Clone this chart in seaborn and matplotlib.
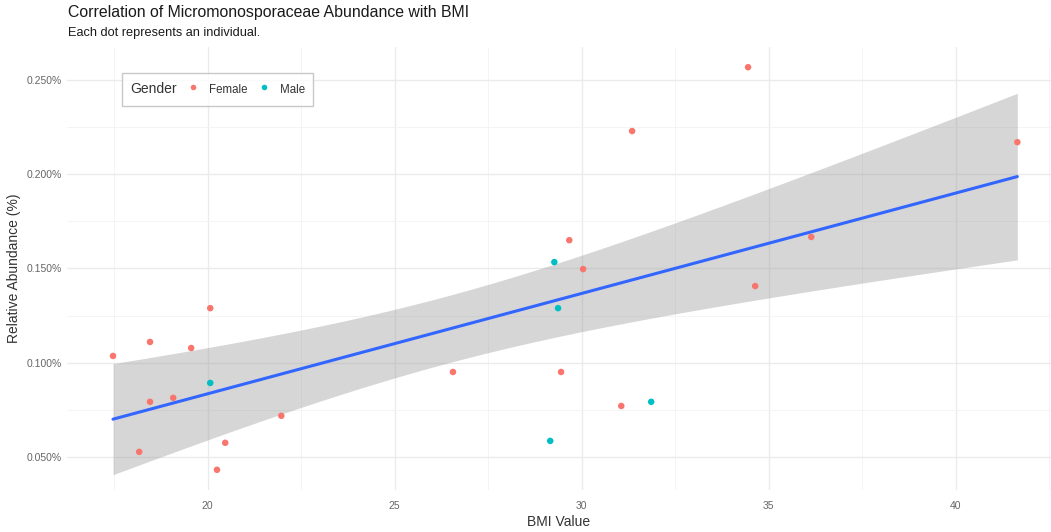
import numpy as np
import pandas as pd
import seaborn as sns
import matplotlib.pyplot as plt
from matplotlib.lines import Line2D
from matplotlib.ticker import MultipleLocator, FuncFormatter

# BMI values and relative abundance (%)
bmi_female = [17.47, 18.46, 18.46, 18.17, 19.08, 19.56, 20.07, 20.47, 20.25, 21.97,
              26.56, 29.67, 30.04, 29.45, 31.06, 31.35, 34.45, 34.64, 36.14, 41.65]
abund_female = [0.1037, 0.1111, 0.0794, 0.0529, 0.0815, 0.1079, 0.1290, 0.0577, 0.0434, 0.0720,
                0.0952, 0.1650, 0.1497, 0.0952, 0.0772, 0.2228, 0.2566, 0.1407, 0.1667, 0.2169]
bmi_male = [20.07, 29.27, 29.37, 29.16, 31.86]
abund_male = [0.0894, 0.1534, 0.1290, 0.0587, 0.0794]
genders = ['Female', 'Male']
palette = {'Female': '#F8766D', 'Male': '#00BFC4'}

df = pd.DataFrame({
    'BMI': bmi_female + bmi_male,
    'Abundance': abund_female + abund_male,
    'Gender': ['Female'] * len(bmi_female) + ['Male'] * len(bmi_male),
})

sns.set_style('whitegrid')
plt.rcParams['font.family'] = ['Liberation Sans', 'DejaVu Sans']

fig, ax = plt.subplots(figsize=(10.51, 5.32), dpi=100)
fig.subplots_adjust(left=67/1051, right=1.0, top=1-47/532, bottom=1-490/532)

# 95% confidence band of the linear fit (t-based, like geom_smooth)
x = df['BMI'].to_numpy()
y = df['Abundance'].to_numpy()
n = len(x)
slope, intercept = np.polyfit(x, y, 1)
resid = y - (slope * x + intercept)
s = np.sqrt(np.sum(resid ** 2) / (n - 2))
grid = np.linspace(x.min(), x.max(), 80)
se = s * np.sqrt(1 / n + (grid - x.mean()) ** 2 / np.sum((x - x.mean()) ** 2))
t975 = 2.069  # t quantile, df = 23
fit = slope * grid + intercept
ax.fill_between(grid, fit - t975 * se, fit + t975 * se, color='#999999', alpha=0.4,
                linewidth=0, zorder=1)

# Regression line
sns.regplot(data=df, x='BMI', y='Abundance', scatter=False, ci=None,
            color='#3366FF', line_kws={'linewidth': 2.2, 'zorder': 2}, ax=ax)

sns.scatterplot(data=df, x='BMI', y='Abundance', hue='Gender', hue_order=genders,
                palette=palette, s=22, edgecolor='none', ax=ax, zorder=3)

# Axes, ticks and grid
ax.xaxis.set_major_locator(MultipleLocator(5))
ax.xaxis.set_minor_locator(MultipleLocator(2.5))
ax.yaxis.set_major_locator(MultipleLocator(0.05))
ax.yaxis.set_minor_locator(MultipleLocator(0.025))
ax.yaxis.set_major_formatter(FuncFormatter(lambda v, p: f'{v:.3f}%'))
ax.grid(which='major', color='#EBEBEB', linewidth=1.0)
ax.grid(which='minor', color='#F3F3F3', linewidth=0.6)
ax.set_axisbelow(True)
for sp in ax.spines.values():
    sp.set_visible(False)
ax.tick_params(axis='both', which='both', length=0, labelsize=7.5, labelcolor='#666666')
ax.tick_params(axis='x', pad=8)
ax.tick_params(axis='y', pad=4)

ax.set_xlabel('BMI Value', fontsize=10, color='#333333', labelpad=3)
ax.set_ylabel('Relative Abundance (%)', fontsize=10, color='#333333', labelpad=4)

# Title and subtitle
fig.text(68/1051, 1-13/532, 'Correlation of Micromonosporaceae Abundance with BMI',
         fontsize=11.4, ha='left', va='center', color='#1A1A1A')
fig.text(68/1051, 1-33/532, 'Each dot represents an individual.',
         fontsize=9.2, ha='left', va='center', color='#1A1A1A')

# Horizontal legend with the title on the left
ax.get_legend().remove()
handles = [Line2D([], [], linestyle='none')]
labels = ['Gender']
for g in genders:
    handles.append(Line2D([], [], marker='o', linestyle='none', markersize=4,
                          markerfacecolor=palette[g], markeredgecolor='none'))
    labels.append(g)
leg = ax.legend(handles, labels, ncol=3, loc='upper left', bbox_to_anchor=(0.0561, 0.941),
                borderaxespad=0, frameon=True, fancybox=False, handlelength=1.4,
                handleheight=1.9, handletextpad=0.8, columnspacing=0.72, fontsize=8,
                borderpad=0.72)
leg.get_frame().set_edgecolor('#BBBBBB')
leg.get_frame().set_linewidth(1.0)
# drop the empty key space in front of "Gender"
first = leg._legend_handle_box.get_children()[0].get_children()[0]
first.sep = 0
first.get_children()[0].width = 0
texts = leg.get_texts()
texts[0].set_fontsize(10)
texts[0].set_color('#333333')
for t in texts[1:]:
    t.set_color('#333333')
    t.set_fontsize(8.3)

ax.set_xlim(16.24, 42.55)
ax.set_ylim(0.0327, 0.2673)

plt.savefig('out.png', dpi=100)
plt.close()
